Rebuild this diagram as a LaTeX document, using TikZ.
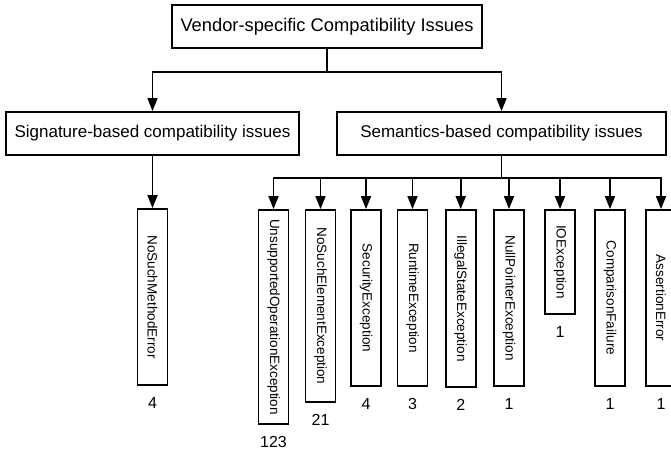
\documentclass[tikz,border=0pt]{standalone}
\usepackage{fontspec}
\setmainfont{Liberation Sans}
\usepackage{graphicx}
\usetikzlibrary{arrows.meta}
\begin{document}
\begin{tikzpicture}[x=1pt,y=-1pt,
  box/.style={draw, line width=1.8pt, inner sep=0pt, font=\fontsize{17}{20}\selectfont},
  vbox/.style={draw, line width=1.8pt, inner sep=0pt, minimum width=30pt, font=\fontsize{13.5}{16}\selectfont},
  num/.style={inner sep=0pt, font=\fontsize{16}{19}\selectfont},
  conn/.style={line width=1.6pt},
  arr/.style={line width=1.6pt, -{Triangle[width=10pt,length=13pt]}}]
\useasboundingbox (0,0) rectangle (671,453);
\node[box, minimum width=310pt, minimum height=43pt, font=\fontsize{18.3}{21}\selectfont] (top) at (327,26.5) {Vendor-specific Compatibility Issues};
\node[box, minimum width=293pt, minimum height=43pt] (sig) at (152.5,133.5) {Signature-based compatibility issues};
\node[box, minimum width=329pt, minimum height=43pt] (sem) at (501.5,133.5) {Semantics-based compatibility issues};
\draw[conn] (top.south) -- ++(0,23) coordinate (j1);
\draw[arr] (j1) -| (sig.north);
\draw[arr] (j1) -| (sem.north);
% signature branch
\node[vbox, minimum height=176pt] (nsme) at (152.5,297) {\rotatebox{-90}{NoSuchMethodError}};
\node[num] (nsmen) at ([yshift=-17pt]nsme.south) {4};
\draw[arr] (sig.south) -- (nsme.north);
% semantics branch
\draw[conn] (sem.south) -- ++(0,22) coordinate (j2);
\foreach \n/\x/\h/\t/\c in {
  uoe/273.5/214/UnsupportedOperationException/123,
  nsee/320.5/192/NoSuchElementException/21,
  sec/366/176/SecurityException/4,
  rte/412.5/176/RuntimeException/3,
  ise/460.7/177/IllegalStateException/2,
  npe/509/176/NullPointerException/1,
  ioe/560/104/IOException/1,
  cf/610/176/ComparisonFailure/1,
  ae/661/176/AssertionError/1}{
  \node[vbox, minimum height=\h pt] (\n) at (\x,210+\h/2) {\rotatebox{-90}{\t}};
  \node[num] (\n n) at ([yshift=-17pt]\n.south) {\c};
  \draw[arr] (j2) -| (\n.north);
}
\end{tikzpicture}
\end{document}
